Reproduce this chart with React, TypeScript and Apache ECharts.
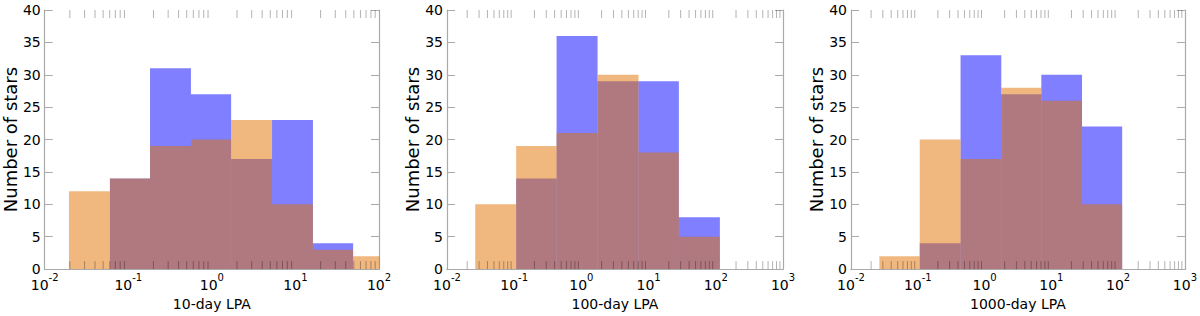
import React, { useEffect, useRef } from "react";
import * as echarts from "echarts";

// ---- Data ----
const xTitles = ["10-day LPA", "100-day LPA", "1000-day LPA"];
const xMins = [0.01, 0.01, 0.01];
const xMaxs = [100, 1000, 1000];

// bin edges (LPA values)
const edges10 = [0.0195, 0.0603, 0.182, 0.562, 1.7, 5.25, 16.2, 49, 151];
const edges100 = [0.0263, 0.107, 0.427, 1.74, 7.08, 28.2, 115];
const edges1000 = [0.0266, 0.107, 0.437, 1.78, 7.08, 28.8, 115];

// counts per bin
const blue10 = [0, 14, 31, 27, 17, 23, 4, 0];
const orange10 = [12, 14, 19, 20, 23, 10, 3, 2];
const blue100 = [0, 14, 36, 29, 29, 8];
const orange100 = [10, 19, 21, 30, 18, 5];
const blue1000 = [0, 4, 33, 27, 30, 22];
const orange1000 = [2, 20, 17, 28, 26, 10];

const yTicks = [0, 5, 10, 15, 20, 25, 30, 35, 40];

const panels = [
  { edges: edges10, blue: blue10, orange: orange10 },
  { edges: edges100, blue: blue100, orange: orange100 },
  { edges: edges1000, blue: blue1000, orange: orange1000 },
];

const FONT = "DejaVu Sans";
const BLUE = "rgba(0,0,255,0.5)";
const ORANGE = "rgba(225,113,0,0.5)";
const SPINE = "#aaaaaa";

const gridLefts = [43, 447, 851];
const gridWidths = [336, 336, 337];

function bins(edges: number[], counts: number[]) {
  return counts.map((c, i) => [edges[i], edges[i + 1], c]);
}

function minorTicks(min: number, max: number) {
  const out: number[][] = [];
  const d0 = Math.round(Math.log10(min));
  const d1 = Math.round(Math.log10(max));
  for (let d = d0; d < d1; d++) {
    for (let k = 2; k <= 9; k++) out.push([k * Math.pow(10, d), 0]);
  }
  return out;
}

export default function App() {
  const ref = useRef<HTMLDivElement>(null);
  useEffect(() => {
    if (!ref.current) return;
    const chart = echarts.init(ref.current, undefined, { renderer: "svg" });

    const grid: any[] = [];
    const xAxis: any[] = [];
    const yAxis: any[] = [];
    const series: any[] = [];

    panels.forEach((p, i) => {
      grid.push({ left: gridLefts[i], top: 10, width: gridWidths[i], height: 261 });
      xAxis.push({
        type: "log",
        logBase: 10,
        gridIndex: i,
        min: xMins[i],
        max: xMaxs[i],
        position: "bottom",
        splitLine: { show: false },
        axisTick: { show: false },
        axisLine: { lineStyle: { color: SPINE, width: 1.2 } },
        name: xTitles[i],
        nameLocation: "middle",
        nameGap: 26,
        nameTextStyle: { fontFamily: FONT, fontSize: 14, color: "#000" },
        axisLabel: {
          margin: 3,
          formatter: (v: number) => {
            const e = Math.round(Math.log10(v));
            return "{b|10}{s|" + e + "}";
          },
          rich: {
            b: { fontFamily: FONT, fontSize: 14, color: "#000", lineHeight: 20, verticalAlign: "bottom" },
            s: { fontFamily: FONT, fontSize: 10, color: "#000", lineHeight: 10, verticalAlign: "top" },
          },
        },
      });
      xAxis.push({
        type: "log",
        logBase: 10,
        gridIndex: i,
        min: xMins[i],
        max: xMaxs[i],
        position: "top",
        splitLine: { show: false },
        axisTick: { show: false },
        axisLabel: { show: false },
        axisLine: { lineStyle: { color: SPINE, width: 1.2 } },
      });
      yAxis.push({
        type: "value",
        gridIndex: i,
        min: yTicks[0],
        max: yTicks[yTicks.length - 1],
        interval: yTicks[1] - yTicks[0],
        position: "left",
        splitLine: { show: false },
        axisLine: { lineStyle: { color: SPINE, width: 1.2 } },
        axisTick: { inside: true, length: 8, lineStyle: { color: SPINE } },
        axisLabel: { margin: 4, fontFamily: FONT, fontSize: 14, color: "#000" },
        name: "Number of stars",
        nameLocation: "middle",
        nameRotate: 90,
        nameGap: 24,
        nameTextStyle: { fontFamily: FONT, fontSize: 18, color: "#000" },
      });
      yAxis.push({
        type: "value",
        gridIndex: i,
        min: yTicks[0],
        max: yTicks[yTicks.length - 1],
        interval: yTicks[1] - yTicks[0],
        position: "right",
        splitLine: { show: false },
        axisLine: { lineStyle: { color: SPINE, width: 1.2 } },
        axisTick: { inside: true, length: 8, lineStyle: { color: SPINE } },
        axisLabel: { show: false },
      });

      const histItem = (color: string) => (params: any, api: any) => {
        const p0 = api.coord([api.value(0), 0]);
        const p1 = api.coord([api.value(1), api.value(2)]);
        return {
          type: "rect",
          shape: { x: p0[0], y: p1[1], width: p1[0] - p0[0], height: p0[1] - p1[1] },
          style: { fill: color },
        };
      };

      series.push({
        type: "custom",
        xAxisIndex: 2 * i,
        yAxisIndex: 2 * i,
        clip: true,
        silent: true,
        renderItem: histItem(BLUE),
        data: bins(p.edges, p.blue),
        z: 2,
      });
      series.push({
        type: "custom",
        xAxisIndex: 2 * i,
        yAxisIndex: 2 * i,
        clip: true,
        silent: true,
        renderItem: histItem(ORANGE),
        data: bins(p.edges, p.orange),
        z: 3,
      });
      series.push({
        type: "custom",
        xAxisIndex: 2 * i,
        yAxisIndex: 2 * i,
        clip: false,
        silent: true,
        z: 4,
        renderItem: (params: any, api: any) => {
          const pb = api.coord([api.value(0), yTicks[0]]);
          const pt = api.coord([api.value(0), yTicks[yTicks.length - 1]]);
          const st = { stroke: "rgba(0,0,0,0.3)", lineWidth: 1 };
          return {
            type: "group",
            children: [
              { type: "line", shape: { x1: pb[0], y1: pb[1], x2: pb[0], y2: pb[1] - 8 }, style: st },
              { type: "line", shape: { x1: pt[0], y1: pt[1], x2: pt[0], y2: pt[1] + 8 }, style: st },
            ],
          };
        },
        data: minorTicks(xMins[i], xMaxs[i]),
      });
    });

    chart.setOption({
      animation: false,
      backgroundColor: "#fff",
      textStyle: { fontFamily: FONT },
      grid,
      xAxis,
      yAxis,
      series,
    });
    return () => chart.dispose();
  }, []);
  return (
    <div
      ref={ref}
      style={{ position: "absolute", left: 0, top: 0, width: 1200, height: 316 }}
    />
  );
}
